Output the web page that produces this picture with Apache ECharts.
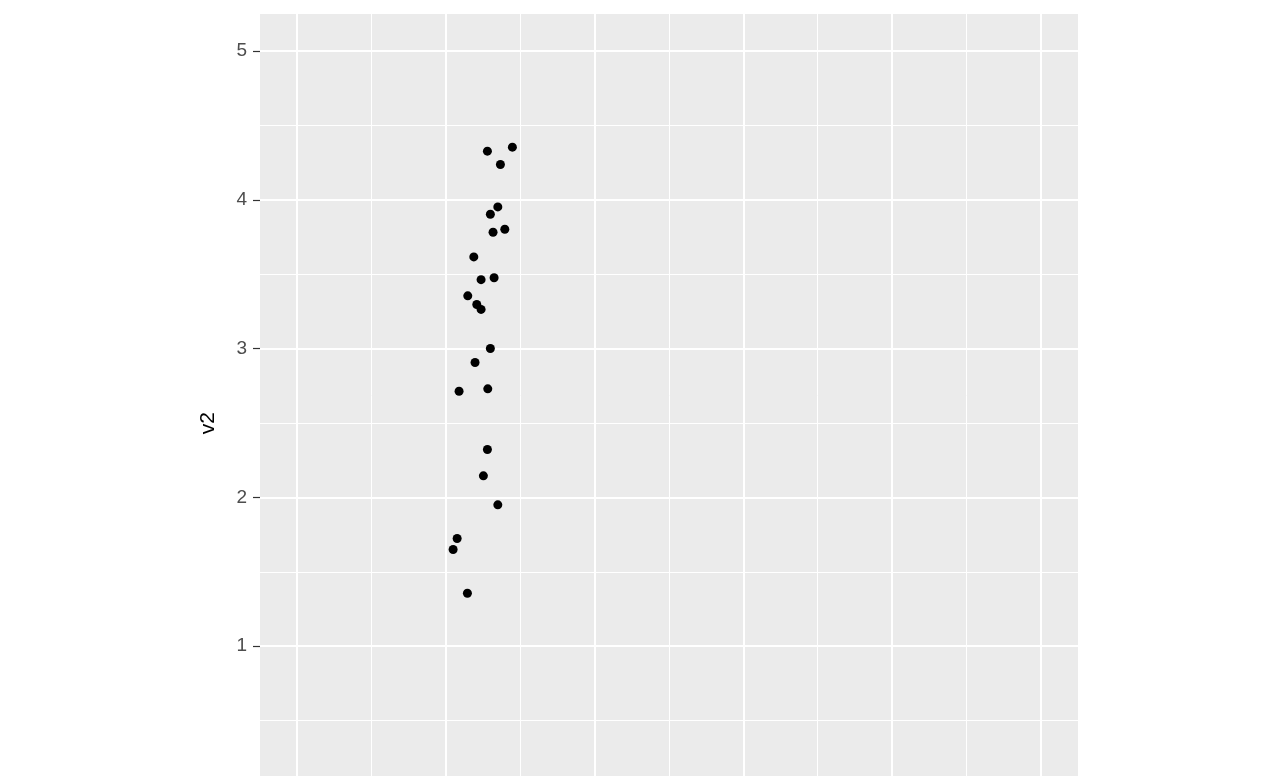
<!DOCTYPE html>
<html>
<head>
<meta charset="utf-8">
<script src="https://cdn.jsdelivr.net/npm/echarts@6/dist/echarts.min.js"></script>
<style>
html,body{margin:0;padding:0;background:#fff;}
#chart{width:1280px;height:776px;}
</style>
</head>
<body>
<div id="chart"></div>
<script>
// data
const v1 = [2.894, 2.558, 2.733, 2.698, 2.598, 2.792, 2.634, 2.375, 2.648, 2.473, 2.294, 2.415, 2.473, 2.598, 2.392, 2.177, 2.563, 2.558, 2.504, 2.698, 2.151, 2.097, 2.289];
const v2 = [4.355, 4.328, 4.238, 3.953, 3.904, 3.803, 3.783, 3.617, 3.477, 3.464, 3.355, 3.297, 3.264, 3.001, 2.907, 2.714, 2.730, 2.322, 2.145, 1.950, 1.724, 1.650, 1.356];
const yTicks = [1, 2, 3, 4, 5];
const yMajor = [0, 1, 2, 3, 4, 5];
const yMinor = [0.5, 1.5, 2.5, 3.5, 4.5];
const xMajor = [0, 2, 4, 6, 8, 10];
const xMinor = [1, 3, 5, 7, 9];
const yName = 'v2';

const points = v1.map((x, i) => [x, v2[i]]);
const font = 'Liberation Sans, Arial, sans-serif';

const gridLines = []
  .concat(yMinor.map(v => ({yAxis: v, lineStyle: {width: 1}})))
  .concat(xMinor.map(v => ({xAxis: v, lineStyle: {width: 1}})))
  .concat(yMajor.map(v => ({yAxis: v, lineStyle: {width: 2}})))
  .concat(xMajor.map(v => ({xAxis: v, lineStyle: {width: 2}})));

const chart = echarts.init(document.getElementById('chart'), null, {renderer: 'canvas'});
chart.setOption({
  animation: false,
  backgroundColor: '#ffffff',
  grid: {
    left: 260, top: 14, width: 818, height: 818.1,
    show: true, backgroundColor: '#EBEBEB', borderWidth: 0,
    containLabel: false, outerBoundsMode: 'none'
  },
  xAxis: {
    type: 'value',
    min: -0.5, max: 10.5,
    axisLine: {show: false, onZero: false},
    axisTick: {show: false},
    axisLabel: {show: false},
    splitLine: {show: false}
  },
  yAxis: {
    type: 'value',
    min: -0.25, max: 5.25,
    name: yName,
    nameLocation: 'middle',
    nameRotate: 90,
    nameGap: 41,
    nameTextStyle: {color: '#000000', fontSize: 21, fontFamily: font},
    axisLine: {show: false, onZero: false},
    axisTick: {show: true, length: 7, customValues: yTicks, lineStyle: {color: '#333333', width: 1.2}},
    axisLabel: {
      show: true, margin: 13, color: '#4D4D4D', fontSize: 19,
      fontFamily: font, customValues: yTicks
    },
    splitLine: {show: false}
  },
  series: [{
    type: 'scatter',
    data: [],
    z: 1,
    silent: true,
    markLine: {
      z: 1,
      silent: true,
      animation: false,
      symbol: ['none', 'none'],
      label: {show: false},
      emphasis: {disabled: true},
      lineStyle: {color: '#ffffff', type: 'solid'},
      data: gridLines
    }
  }, {
    type: 'scatter',
    data: points,
    z: 6,
    symbol: 'circle',
    symbolSize: 9,
    itemStyle: {color: '#000000', opacity: 1}
  }]
});
</script>
</body>
</html>
